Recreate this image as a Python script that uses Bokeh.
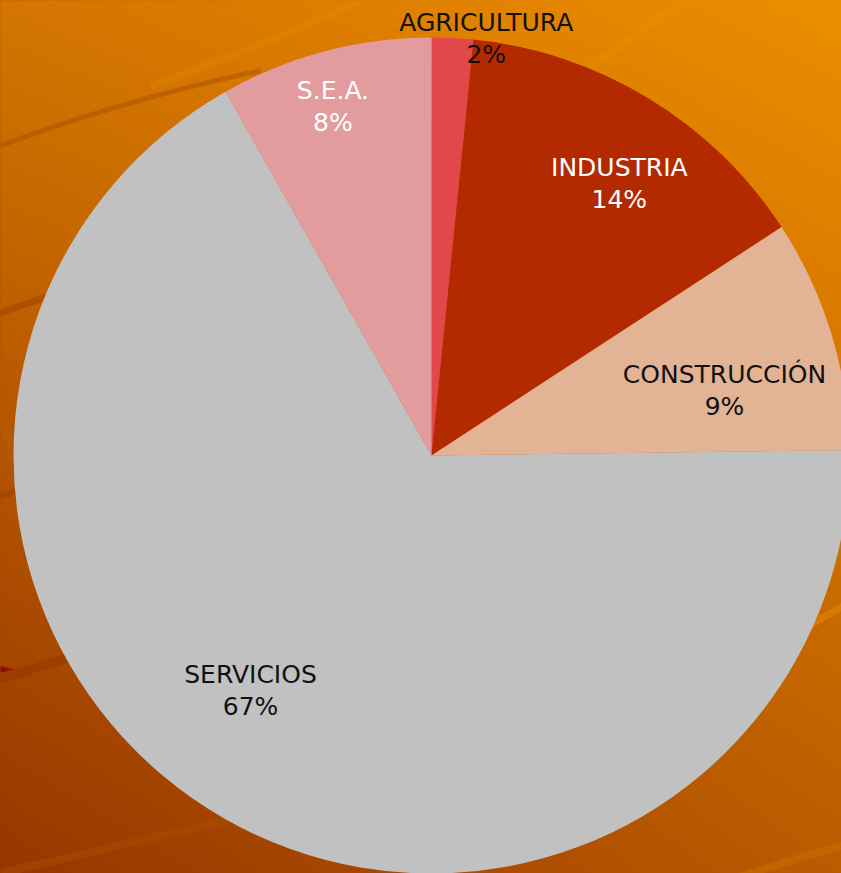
import numpy as np
from bokeh.plotting import figure
from bokeh.models import ColumnDataSource, Range1d
from bokeh.core.properties import value
from bokeh.embed import file_html
from bokeh.resources import INLINE

# ---- data ----
sectors = ["AGRICULTURA", "INDUSTRIA", "CONSTRUCCIÓN", "SERVICIOS", "S.E.A."]
shares = [1.6, 14.2, 9.0, 67.0, 8.2]

# ---- styles ----
slice_colors = ["#E2474C", "#B32A00", "#E3B396", "#C1C1C1", "#E29C9D"]
label_colors = ["#111111", "#FFFFFF", "#111111", "#111111", "#FFFFFF"]
label_radius = [1.006, 0.791, 0.718, 0.710, 0.868]
label_angle_offset = [4.6, 3.3, 4.4, 7.7, -1.0]

W, H = 841, 873
CX, CY, R = 431, H - 455, 418

p = figure(width=W, height=H, output_backend="svg", toolbar_location=None,
           x_range=Range1d(0, W), y_range=Range1d(0, H),
           x_axis_type=None, y_axis_type=None, min_border=0)
p.grid.visible = False
p.outline_line_color = None
p.border_fill_color = None
p.background_fill_color = None

# ---- background gradient ----
gw, gh = 421, 437
u = np.linspace(0, 1, gw)[None, :]
v = np.linspace(0, 1, gh)[:, None]  # v=0 bottom, v=1 top
TL = np.array([212, 118, 0]); TR = np.array([238, 142, 0])
BL = np.array([150, 54, 0]); BR = np.array([186, 92, 0])
col = (TL * (v * (1 - u))[..., None] + TR * (v * u)[..., None]
       + BL * ((1 - v) * (1 - u))[..., None] + BR * ((1 - v) * u)[..., None])
col = col.astype(np.uint32)
img = (255 << 24) | (col[..., 2] << 16) | (col[..., 1] << 8) | col[..., 0]
p.image_rgba(image=[img.astype(np.uint32)], x=-6, y=-6, dw=W + 12, dh=H + 12)

# ---- background streaks (screen coords: x0,y0,x1,y1,cx,cy,width,color,alpha) ----
streaks = [
    (-5, 147, 260, 70, 120, 100, 5, "#A84A00", 0.45),
    (150, 85, 370, -5, 280, 40, 7, "#EA8C00", 0.3),
    (590, 66, 690, -5, 640, 30, 8, "#F09200", 0.3),
    (-5, 314, 90, 282, 40, 298, 7, "#A24400", 0.55),
    (-5, 497, 40, 482, 18, 490, 7, "#9E4000", 0.55),
    (-5, 680, 80, 653, 35, 668, 9, "#943600", 0.55),
    (-5, 874, 260, 812, 120, 845, 8, "#AC4C00", 0.5),
    (750, 660, 845, 604, 800, 630, 7, "#EA8A00", 0.5),
    (740, 876, 845, 844, 790, 860, 8, "#CE6E00", 0.5),
]
for x0, y0, x1, y1, cx, cy, w, c, a in streaks:
    p.quadratic(x0=x0, y0=H - y0, x1=x1, y1=H - y1, cx=cx, cy=H - cy,
                line_width=w, line_color=c, line_alpha=a)
p.patch(x=[-3, -3, 14], y=[H - 665, H - 673, H - 669], fill_color="#8E1200", line_color=None)

# ---- pie ----
vals = np.array(shares, dtype=float)
frac = vals / vals.sum()
cum_after = np.cumsum(frac)
cum_before = cum_after - frac
start = np.pi / 2 - 2 * np.pi * cum_before
end = np.pi / 2 - 2 * np.pi * cum_after

src = ColumnDataSource(dict(name=sectors, start=start, end=end, color=slice_colors))
p.wedge(x=CX, y=CY, radius=R, start_angle="start", end_angle="end",
        direction="clock", fill_color="color", line_color=None, source=src)

theta = np.radians(360 * (cum_before + frac / 2) + np.array(label_angle_offset))
lx = CX + np.array(label_radius) * R * np.sin(theta)
ly = CY + np.array(label_radius) * R * np.cos(theta)
pct = [f"{int(round(f * 100))}%" for f in frac]

lab = ColumnDataSource(dict(x=lx, y_name=ly + 16, y_pct=ly - 16,
                            name=sectors, pct=pct, color=label_colors))
for ycol, tcol in (("y_name", "name"), ("y_pct", "pct")):
    p.text(x="x", y=ycol, text=tcol, source=lab, text_align="center",
           text_baseline="middle", text_color="color",
           text_font=value("DejaVu Sans"), text_font_size="25px")

html = file_html(p, INLINE)
html = html.replace("<head>",
                    "<head><style>html,body{margin:0;padding:0;overflow:hidden;"
                    "background:linear-gradient(to bottom left,#EE8E00,#C46400,#963600) no-repeat;"
                    "min-height:100%}</style>", 1)
open("out.html", "w").write(html)
